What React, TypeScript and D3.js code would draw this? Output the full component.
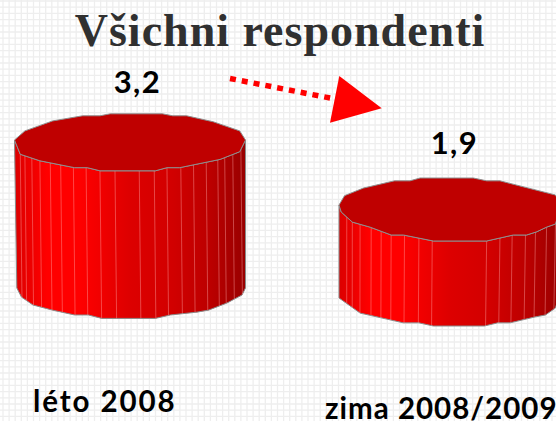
import React from "react";
import * as d3 from "d3";

const W = 556, H = 421;
const categories = ["léto 2008", "zima 2008/2009"];
const valueLabels = ["3,2", "1,9"];
const values = [3.2, 1.9];
const title = "Všichni respondenti";

// faceted outlines, normalised to [-1,1] around each cylinder's centre
const lidFrontA: [number, number][] = [
  [-1, -0.08], [-0.95, 0.42], [-0.78, 0.65], [-0.48, 0.89], [-0.37, 0.89], [-0.26, 1], [0.22, 1], [0.32, 0.89], [0.43, 0.89], [0.78, 0.6], [0.95, 0.33], [1, -0.08],
];
const lidBackA: [number, number][] = [
  [0.95, -0.4], [0.72, -0.72], [0.49, -0.93], [0.37, -0.93], [0.28, -1], [-0.17, -1], [-0.26, -0.93], [-0.41, -0.93], [-0.67, -0.75], [-0.91, -0.4],
];
const baseA: [number, number][] = [
  [-0.98, -0.07], [-0.94, 0.25], [-0.84, 0.53], [-0.67, 0.71], [-0.48, 0.88], [-0.36, 0.88], [-0.245, 1], [0.22, 1], [0.35, 0.88], [0.58, 0.78], [0.68, 0.71], [0.84, 0.46], [0.97, 0.18], [1, -0.07],
];
const facetsA = [-0.95, -0.91, -0.85, -0.78, -0.69, -0.6, -0.49, -0.38, -0.26, -0.13, 0.08, 0.21, 0.32, 0.44, 0.55, 0.66, 0.76, 0.82, 0.89, 0.96];

const lidFrontB: [number, number][] = [
  [-1, -0.14], [-0.98, 0.08], [-0.88, 0.4], [-0.72, 0.56], [-0.53, 0.81], [-0.42, 0.81], [-0.15, 1], [0.33, 1], [0.57, 0.81], [0.69, 0.81], [0.78, 0.71], [0.87, 0.56], [0.95, 0.46], [1, -0.14],
];
const lidBackB: [number, number][] = [
  [0.95, -0.46], [0.45, -0.91], [0.33, -0.91], [0.21, -1], [-0.27, -1], [-0.36, -0.91], [-0.5, -0.91], [-0.78, -0.68], [-0.95, -0.44],
];
const baseB: [number, number][] = [
  [-1, 0.11], [-0.81, 0.59], [-0.42, 0.9], [-0.28, 0.9], [-0.15, 1], [0.31, 1], [0.43, 0.9], [0.54, 0.9], [0.77, 0.71], [0.86, 0.65], [0.95, 0.43], [1, -0.14],
];
const facetsB = [-0.93, -0.88, -0.81, -0.71, -0.62, -0.53, -0.41, -0.28, -0.16, 0.33, 0.45, 0.56, 0.68, 0.77, 0.87, 0.95];

const shades = ["#dc0000", "#ff0000", "#ff0000", "#dd0000", "#d20000", "#bb0000", "#980000"];
const shadeStops = [0, 0.14, 0.28, 0.5, 0.68, 0.85, 1];

const layout = [
  { cx: 130, cy: 142.3, rx: 115.5, ry: 28.5, h: 147.6, tilt: [1.7, 1.5], front: lidFrontA, back: lidBackA, base: baseA, facets: facetsA, labelX: 137.5, labelY: 93, catX: 33, catY: 411.5, catTrack: 1.9 },
  { cx: 450, cy: 209.5, rx: 111, ry: 31.5, h: 85, tilt: [0, -1.6], front: lidFrontB, back: lidBackB, base: baseB, facets: facetsB, labelX: 454.5, labelY: 154, catX: 325, catY: 418.5, catTrack: 1 },
];
const heightOf = [d3.scaleLinear().domain([0, values[0]]).range([0, layout[0].h]), d3.scaleLinear().domain([0, values[1]]).range([0, layout[1].h])];
const gridXs = d3.range(3, W + 7, 6.1);
const gridYs = d3.range(1, H + 7, 6.2);

function Cylinder({ i }: { i: number }) {
  const c = layout[i];
  const x = d3.scaleLinear().domain([-1, 1]).range([c.cx - c.rx, c.cx + c.rx]);
  const y = d3.scaleLinear().domain([-1, 1]).range([c.cy - c.ry, c.cy + c.ry]);
  const h = heightOf[i](values[i]);
  const line = d3.line<[number, number]>().x((d) => x(d[0])).y((d) => y(d[1]));
  const lid = line([...c.front, ...c.back]) + "Z";
  const topY = d3.scaleLinear().domain(c.front.map((d) => d[0])).range(c.front.map((d) => y(d[1])));
  const baseY = d3.scaleLinear().domain(c.base.map((d) => d[0])).range(c.base.map((d) => y(d[1]) + h));
  const tilt = d3.scaleLinear().domain([-1, 1]).range(c.tilt);
  const top = c.front.map((d) => [x(d[0]), y(d[1])] as [number, number]);
  const bot = c.base.map((d) => [x(d[0]), y(d[1]) + h] as [number, number]);
  const body = d3.line()([...top, ...bot.slice().reverse()]) + "Z";
  const id = `shade${i}`;
  return (
    <g>
      <defs>
        <linearGradient id={id} gradientUnits="userSpaceOnUse" x1={x(-1)} x2={x(1)} y1={0} y2={0}>
          {shades.map((s, k) => <stop key={k} offset={shadeStops[k]} stopColor={s} />)}
        </linearGradient>
      </defs>
      <path d={body} fill={`url(#${id})`} stroke="#8a8a8a" strokeWidth={1} strokeLinejoin="round" />
      {c.facets.map((n) => (
        <line key={n} x1={x(n)} x2={x(n) + tilt(n)} y1={topY(n)} y2={baseY(n + tilt(n) / c.rx)} stroke="#ffa8a8" strokeOpacity={0.42} strokeWidth={1} />
      ))}
      <path d={lid} fill="#bf0000" stroke="#8f8f8f" strokeWidth={1} strokeLinejoin="round" />
    </g>
  );
}

export default function App() {
  const arrowPts: [number, number][] = [[339.3, 76], [381.7, 108.3], [330, 122.7]];
  return (
    <svg width={W} height={H} viewBox={`0 0 ${W} ${H}`} style={{ position: "absolute", left: 0, top: 0, background: "#fff" }}>
      <g stroke="#eeeeee" strokeWidth={1.3}>
        {gridXs.map((g) => <line key={g} x1={g} x2={g} y1={0} y2={H} />)}
        {gridYs.map((g) => <line key={g} y1={g} y2={g} x1={0} x2={W} />)}
      </g>
      <text x={280} y={46} textAnchor="middle" fontFamily="'Liberation Serif', serif" fontWeight={700} fontSize={46} letterSpacing={1} fill="#303030">{title}</text>
      <line x1={230} y1={78.5} x2={331} y2={98.2} stroke="#ff0000" strokeWidth={5.5} strokeDasharray="6 6" />
      <path d={d3.line()(arrowPts) + "Z"} fill="#ff0000" />
      {values.map((_, i) => <Cylinder key={i} i={i} />)}
      {values.map((_, i) => (
        <g key={i} fontFamily="Lato, sans-serif" fontWeight={700} fill="#000">
          <text x={layout[i].labelX} y={layout[i].labelY} textAnchor="middle" fontSize={31} letterSpacing={1.5}>{valueLabels[i]}</text>
          <text x={layout[i].catX} y={layout[i].catY} fontSize={29.5} letterSpacing={layout[i].catTrack}>{categories[i]}</text>
        </g>
      ))}
    </svg>
  );
}
